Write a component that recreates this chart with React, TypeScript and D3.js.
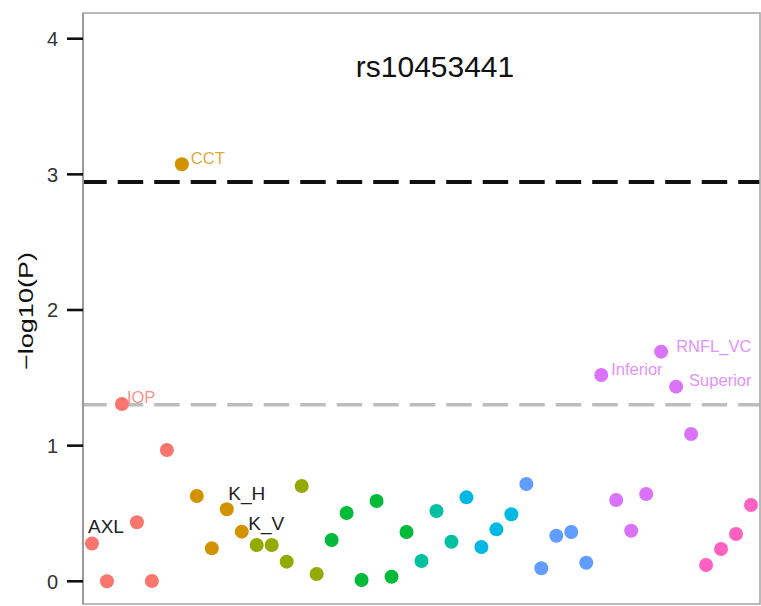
import React from "react";
import * as d3 from "d3";

const traits = [
  "AXL", "t02", "IOP", "t04", "t05", "t06",
  "CCT", "t08", "t09", "K_H", "K_V",
  "t12", "t13", "t14", "t15", "t16",
  "t17", "t18", "t19", "t20", "t21", "t22",
  "t23", "t24", "t25",
  "t26", "t27", "t28", "t29",
  "t30", "t31", "t32", "t33", "t34",
  "Inferior", "t36", "t37", "t38", "RNFL_VC", "Superior", "t41",
  "t42", "t43", "t44", "t45",
];
const logP = [
  0.279, 0.0, 1.307, 0.435, 0.002, 0.968,
  3.074, 0.629, 0.243, 0.531, 0.366,
  0.268, 0.268, 0.145, 0.703, 0.054,
  0.304, 0.503, 0.01, 0.592, 0.034, 0.363,
  0.15, 0.518, 0.292,
  0.619, 0.253, 0.383, 0.494,
  0.717, 0.096, 0.336, 0.363, 0.137,
  1.521, 0.599, 0.373, 0.644, 1.693, 1.435, 1.086,
  0.12, 0.238, 0.349, 0.562,
];
const groupOf = [
  0, 0, 0, 0, 0, 0,
  1, 1, 1, 1, 1,
  2, 2, 2, 2, 2,
  3, 3, 3, 3, 3, 3,
  4, 4, 4,
  5, 5, 5, 5,
  6, 6, 6, 6, 6,
  7, 7, 7, 7, 7, 7, 7,
  8, 8, 8, 8,
];
const groupColors = [
  "#F8766D", "#D39200", "#93AA00", "#00BA38", "#00C19F",
  "#00B9E3", "#619CFF", "#DB72FB", "#FF61C3",
];
const yTicks = [0, 1, 2, 3, 4];
const title = "rs10453441";
const bonferroni = -Math.log10(0.05 / 44);
const nominal = -Math.log10(0.05);

const coloredLabels = [
  { name: "CCT", dx: 9, dy: 0 },
  { name: "IOP", dx: 5, dy: -1 },
  { name: "Inferior", dx: 10, dy: 0 },
  { name: "RNFL_VC", dx: 15, dy: 0.5 },
  { name: "Superior", dx: 13, dy: -1 },
];
const blackLabels = [
  { name: "AXL", dx: -4, dy: -10 },
  { name: "K_H", dx: 1.5, dy: -9 },
  { name: "K_V", dx: 6.5, dy: -2 },
];

export default function App() {
  const W = 761, H = 606;
  const pL = 83, pR = 760, pT = 13, pB = 604;
  const x = d3.scalePoint<string>().domain(traits).range([pL, pR]).padding(0.6);
  const y = d3.scaleLinear().domain([0, 4]).range([581.3, 38.7]);
  const font = "Liberation Sans, Arial, Helvetica, sans-serif";
  const idx = (n: string) => traits.indexOf(n);

  return (
    <svg width={W} height={H} style={{ position: "absolute", left: 0, top: 0, background: "#fff" }} fontFamily={font}>
      <rect x={0} y={0} width={W} height={H} fill="#fff" />
      <text x={435} y={77} fontSize={30} textAnchor="middle" fill="#111">{title}</text>
      <line x1={pL} x2={pR} y1={y(bonferroni)} y2={y(bonferroni)} stroke="#111" strokeWidth={4} strokeDasharray="25.5 11" strokeDashoffset={1.8} />
      <line x1={pL} x2={pR} y1={y(nominal)} y2={y(nominal)} stroke="#bdbdbd" strokeWidth={3.5} strokeDasharray="25.5 11" strokeDashoffset={1.8} />
      {traits.map((t, i) => (
        <circle key={t} cx={x(t)} cy={y(logP[i])} r={7} fill={groupColors[groupOf[i]]} />
      ))}
      {coloredLabels.map((l) => {
        const i = idx(l.name);
        return (
          <text key={l.name} x={(x(l.name) as number) + l.dx} y={y(logP[i]) + l.dy} fontSize={16.5}
            fill={groupColors[groupOf[i]]} fillOpacity={0.8}>{l.name}</text>
        );
      })}
      {blackLabels.map((l) => {
        const i = idx(l.name);
        return (
          <text key={l.name} x={(x(l.name) as number) + l.dx} y={y(logP[i]) + l.dy} fontSize={19} fill="#222">{l.name}</text>
        );
      })}
      <rect x={pL} y={pT} width={pR - pL} height={pB - pT} fill="none" stroke="#a8a8a8" strokeWidth={1.6} />
      <line x1={pL} x2={pL} y1={pT} y2={pB} stroke="#9a9a9a" strokeWidth={2} />
      {yTicks.map((v) => (
        <g key={v}>
          <line x1={67} x2={pL} y1={y(v)} y2={y(v)} stroke="#111" strokeWidth={2.6} />
          <text x={58} y={y(v)} dy="0.36em" fontSize={20} textAnchor="end" fill="#333">{v}</text>
        </g>
      ))}
      <text transform={`translate(33,311) rotate(-90)`} fontSize={20} textAnchor="middle" fill="#111"
        textLength={118} lengthAdjust="spacingAndGlyphs">−log10(P)</text>
    </svg>
  );
}
